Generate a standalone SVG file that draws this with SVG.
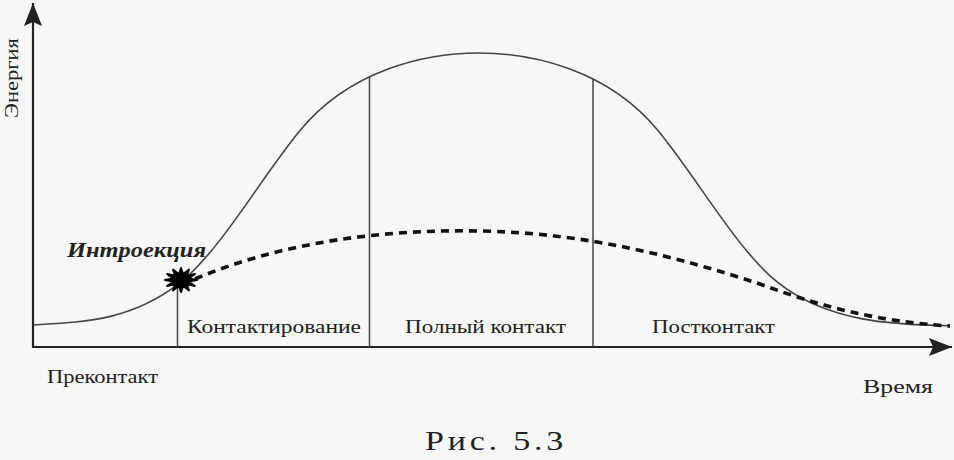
<svg xmlns="http://www.w3.org/2000/svg" width="954" height="460" viewBox="0 0 954 460">
<defs>
<marker id="arrow" markerUnits="userSpaceOnUse" markerWidth="30" markerHeight="24" viewBox="-24 -12 30 24" refX="0" refY="0" orient="auto">
<path d="M0,0 L-23,-9 L-19,0 L-23,9 Z" fill="#222"/>
</marker>
<style>
.axis{stroke:#222;stroke-width:2.2;fill:none}
.curve{stroke:#444;stroke-width:1.6;fill:none;stroke-linejoin:round}
.div{stroke:#444;stroke-width:1.5}
.dash{stroke:#111;stroke-width:3.6;fill:none;stroke-dasharray:8 6}
.lbl{font-family:"Liberation Serif","DejaVu Serif",serif;font-size:19px;fill:#222}
</style>
</defs>
<rect width="954" height="460" fill="#f7f7f7"/>
<g id="connectors">
<line id="y-axis" class="axis" x1="33" y1="348" x2="33" y2="3" marker-end="url(#arrow)"/>
<line id="x-axis" class="axis" x1="32" y1="347" x2="952" y2="347" marker-end="url(#arrow)"/>
<path id="energy-curve" class="curve" d="M33,325 C82,322.1 131,321.4 180,282.7 C220,251.1 260,179.4 300,130.6 C350,70 425,53 479,53 C533,53 608,70 658,130.6 C698,179.4 738,251.1 778,282.7 C827,321.4 890,324.8 950,325.8"/>
<path id="introjection-curve" class="dash" d="M195,279 C280,243 380,229 480,231 C590,233 680,258 760,284 C822,307 880,322 950,326"/>
<line class="div" x1="177.5" y1="284" x2="177.5" y2="347"/>
<line class="div" x1="369.5" y1="76" x2="369.5" y2="347"/>
<line class="div" x1="593" y1="78" x2="593" y2="347"/>
</g>
<g id="introjection">
<polygon points="197,280 188.7,281.6 194.9,286 186.7,284.2 189,290.4 183.1,285.8 181,292 178.9,285.8 173,290.4 175.3,284.2 167.1,286 173.3,281.6 165,280 173.3,278.4 167.1,274 175.3,275.8 173,269.6 178.9,274.2 181,268 183.1,274.2 189,269.6 186.7,275.8 194.9,274 188.7,278.4" fill="#000" stroke="#000" stroke-width="2" stroke-linejoin="round"/>
<text x="67" y="257" textLength="139" lengthAdjust="spacingAndGlyphs" style="font-family:'Liberation Serif','DejaVu Serif',serif;font-size:22px;font-style:italic;font-weight:bold;fill:#222">Интроекция</text>
</g>
<g id="precontact">
<text class="lbl" x="47" y="383" textLength="111" lengthAdjust="spacingAndGlyphs">Преконтакт</text>
</g>
<g id="contacting">
<text class="lbl" x="187" y="333" textLength="174" lengthAdjust="spacingAndGlyphs">Контактирование</text>
</g>
<g id="full-contact">
<text class="lbl" x="405" y="333" textLength="161" lengthAdjust="spacingAndGlyphs">Полный контакт</text>
</g>
<g id="postcontact">
<text class="lbl" x="652" y="333" textLength="123" lengthAdjust="spacingAndGlyphs">Постконтакт</text>
</g>
<g id="axis-labels">
<text class="lbl" x="863" y="393" textLength="70" lengthAdjust="spacingAndGlyphs">Время</text>
<text class="lbl" transform="translate(18,78) rotate(-90)" x="-40" y="0" textLength="80" lengthAdjust="spacingAndGlyphs">Энергия</text>
</g>
<g id="caption">
<text x="425" y="450" textLength="142" lengthAdjust="spacingAndGlyphs" letter-spacing="3" style="font-family:'Liberation Serif','DejaVu Serif',serif;font-size:27px;fill:#222">Рис. 5.3</text>
</g>
</svg>
